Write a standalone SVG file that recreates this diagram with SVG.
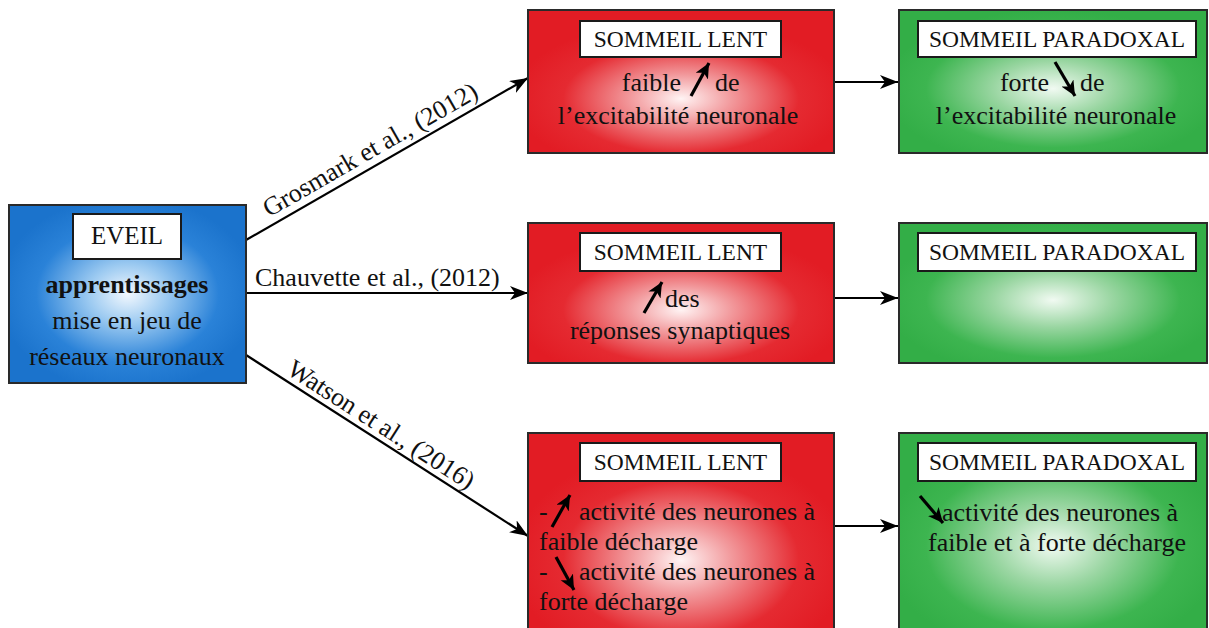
<svg xmlns="http://www.w3.org/2000/svg" width="1209" height="628" viewBox="0 0 1209 628">
<defs>
<radialGradient id="gBlue" cx="0.5" cy="0.5" r="0.55">
<stop offset="0" stop-color="#f2f8fe"/>
<stop offset="0.3" stop-color="#9ccaf1"/>
<stop offset="0.7" stop-color="#2a82d8"/>
<stop offset="1" stop-color="#1b73cc"/>
</radialGradient>
<radialGradient id="gRed" cx="0.5" cy="0.62" r="0.55">
<stop offset="0" stop-color="#fff4f4"/>
<stop offset="0.3" stop-color="#f29a9d"/>
<stop offset="0.7" stop-color="#e52a31"/>
<stop offset="1" stop-color="#e21c24"/>
</radialGradient>
<radialGradient id="gGreen" cx="0.5" cy="0.55" r="0.55">
<stop offset="0" stop-color="#f1faf2"/>
<stop offset="0.35" stop-color="#9ad6a2"/>
<stop offset="0.75" stop-color="#3db550"/>
<stop offset="1" stop-color="#33ae47"/>
</radialGradient>
<marker id="arr" markerUnits="userSpaceOnUse" markerWidth="20" markerHeight="16" refX="18" refY="7" orient="auto">
<path d="M0,0 L18,7 L0,14 L5,7 Z" fill="#000"/>
</marker>
<marker id="arrS" markerUnits="userSpaceOnUse" markerWidth="18" markerHeight="16" refX="15" refY="7" orient="auto">
<path d="M0,0 L15,7 L0,14 L4,7 Z" fill="#000"/>
</marker>
<style>
.box{stroke:#2a2a2a;stroke-width:2}
.tbox{fill:#fff;stroke:#1a1a1a;stroke-width:2}
text{font-family:"Liberation Serif","Times New Roman",serif;fill:#111}
.t{font-size:23.5px}
.b{font-size:26px}
.c{text-anchor:middle}
.ln{stroke:#000;stroke-width:2.2;fill:none;marker-end:url(#arr)}
.ia{stroke:#000;stroke-width:3.2;fill:none;marker-end:url(#arrS)}
</style>
</defs>
<rect width="1209" height="628" fill="#fff"/>

<g id="connectors">
<line class="ln" x1="246" y1="240" x2="528" y2="78"/>
<line class="ln" x1="246" y1="293" x2="528" y2="293"/>
<line class="ln" x1="246" y1="355" x2="528" y2="536"/>
<line class="ln" x1="834" y1="82" x2="898" y2="82"/>
<line class="ln" x1="834" y1="298" x2="898" y2="298"/>
<line class="ln" x1="834" y1="526" x2="898" y2="526"/>
<text class="b" transform="translate(246,240) rotate(-29.88)" x="31" y="-8">Grosmark et al., (2012)</text>
<text class="b" x="255" y="286">Chauvette et al., (2012)</text>
<text class="b" transform="translate(246,355) rotate(32.7)" x="43" y="-6">Watson et al., (2016)</text>
</g>

<g id="node-eveil">
<rect class="box" x="9" y="205" width="237" height="178" fill="url(#gBlue)"/>
<rect class="tbox" x="73" y="214" width="108" height="45"/>
<text class="c" x="127" y="244" font-size="25">EVEIL</text>
<text class="b c" x="127" y="293" font-weight="bold">apprentissages</text>
<text class="b c" x="127" y="329">mise en jeu de</text>
<text class="b c" x="127" y="365">réseaux neuronaux</text>
</g>

<g id="node-lent-1">
<rect class="box" x="528" y="10" width="306" height="143" fill="url(#gRed)"/>
<rect class="tbox" x="580" y="21" width="201" height="36"/>
<text class="t c" x="680.5" y="47">SOMMEIL LENT</text>
<text class="b" x="681" y="91" text-anchor="end">faible</text>
<line class="ia" x1="691" y1="96" x2="709" y2="63"/>
<text class="b" x="715" y="91">de</text>
<text class="b c" x="678" y="124">l’excitabilité neuronale</text>
</g>

<g id="node-paradoxal-1">
<rect class="box" x="899" y="10" width="308" height="143" fill="url(#gGreen)"/>
<rect class="tbox" x="918" y="21" width="278" height="36"/>
<text class="t c" x="1057" y="47">SOMMEIL PARADOXAL</text>
<text class="b" x="1049" y="91" text-anchor="end">forte</text>
<line class="ia" x1="1055" y1="62" x2="1075" y2="96"/>
<text class="b" x="1080" y="91">de</text>
<text class="b c" x="1056" y="124">l’excitabilité neuronale</text>
</g>

<g id="node-lent-2">
<rect class="box" x="528" y="223" width="306" height="140" fill="url(#gRed)"/>
<rect class="tbox" x="580" y="233" width="201" height="38"/>
<text class="t c" x="680.5" y="260">SOMMEIL LENT</text>
<line class="ia" x1="644" y1="313" x2="662" y2="282"/>
<text class="b" x="665" y="307">des</text>
<text class="b c" x="680" y="339">réponses synaptiques</text>
</g>

<g id="node-paradoxal-2">
<rect class="box" x="899" y="223" width="308" height="140" fill="url(#gGreen)"/>
<rect class="tbox" x="918" y="233" width="278" height="38"/>
<text class="t c" x="1057" y="260">SOMMEIL PARADOXAL</text>
</g>

<g id="node-lent-3">
<rect class="box" x="528" y="433" width="306" height="205" fill="url(#gRed)"/>
<rect class="tbox" x="580" y="443" width="201" height="38"/>
<text class="t c" x="680.5" y="470">SOMMEIL LENT</text>
<text class="b" x="539" y="520">-</text>
<line class="ia" x1="552" y1="527" x2="570" y2="495"/>
<text class="b" x="579" y="520">activité des neurones à</text>
<text class="b" x="539" y="550">faible décharge</text>
<text class="b" x="539" y="580">-</text>
<line class="ia" x1="556" y1="557" x2="574" y2="590"/>
<text class="b" x="579" y="580">activité des neurones à</text>
<text class="b" x="539" y="610">forte décharge</text>
</g>

<g id="node-paradoxal-3">
<rect class="box" x="899" y="433" width="308" height="205" fill="url(#gGreen)"/>
<rect class="tbox" x="918" y="443" width="278" height="38"/>
<text class="t c" x="1057" y="470">SOMMEIL PARADOXAL</text>
<line class="ia" x1="920" y1="496" x2="943" y2="523"/>
<text class="b" x="942" y="521">activité des neurones à</text>
<text class="b" x="928" y="551">faible et à forte décharge</text>
</g>
</svg>
